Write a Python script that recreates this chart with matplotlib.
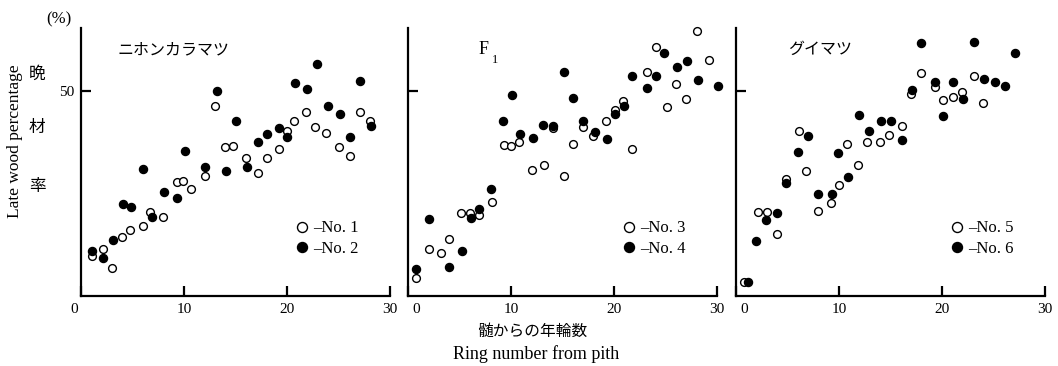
import matplotlib
matplotlib.use('Agg')
import matplotlib.pyplot as plt
from matplotlib.lines import Line2D
from matplotlib.transforms import ScaledTranslation

plt.rcParams['font.family'] = ['Liberation Serif', 'Noto Sans CJK JP']

# --- data (ring number from pith, late wood %) ---
titles = ['ニホンカラマツ', 'F', 'グイマツ']
labels_open = ['No. 1', 'No. 3', 'No. 5']
labels_fill = ['No. 2', 'No. 4', 'No. 6']

x_no1 = [1.1, 2.1, 3.0, 4.0, 4.8, 6.0, 6.7, 8.0, 9.3, 9.9, 10.7, 12.0, 13.0, 14.0,
         14.8, 16.0, 17.2, 18.1, 19.2, 20.0, 20.7, 21.8, 22.7, 23.8, 25.0, 26.1, 27.1, 28.1]
y_no1 = [9.8, 11.5, 6.9, 14.5, 16.1, 17.2, 20.5, 19.3, 27.9, 28.1, 26.1, 29.3, 46.4, 36.4,
         36.6, 33.6, 30.0, 33.6, 35.9, 40.2, 42.8, 45.0, 41.3, 39.7, 36.4, 34.2, 44.8, 42.7]

x_no2 = [1.1, 2.1, 3.1, 4.1, 4.9, 6.0, 6.9, 8.1, 9.3, 10.1, 12.0, 13.2, 14.1, 15.0,
         16.1, 17.2, 18.1, 19.2, 20.0, 20.8, 21.9, 22.9, 24.0, 25.1, 26.1, 27.1, 28.2]
y_no2 = [11.1, 9.2, 13.7, 22.5, 21.7, 31.1, 19.3, 25.5, 23.9, 35.4, 31.5, 50.1, 30.4, 42.8,
         31.4, 37.6, 39.6, 41.1, 38.8, 52.1, 50.4, 56.7, 46.3, 44.5, 38.9, 52.5, 41.5]

x_no3 = [0.8, 2.0, 3.2, 4.0, 5.1, 6.0, 6.9, 8.2, 9.3, 10.0, 10.8, 12.0, 13.2, 14.1, 15.1,
         16.0, 17.0, 18.0, 19.2, 20.1, 20.9, 21.7, 23.2, 24.1, 25.1, 26.0, 27.0, 28.1, 29.2]
y_no3 = [4.3, 11.4, 10.6, 14.0, 20.2, 20.3, 19.8, 22.9, 36.9, 36.7, 37.5, 30.8, 32.0, 40.9, 29.3,
         37.2, 41.3, 39.1, 42.8, 45.4, 47.6, 35.9, 54.6, 60.7, 46.0, 51.8, 48.1, 64.6, 57.5]

x_no4 = [0.8, 2.0, 4.0, 5.2, 6.1, 6.9, 8.1, 9.2, 10.1, 10.9, 12.1, 13.1, 14.1, 15.1,
         16.0, 17.0, 18.2, 19.3, 20.1, 21.0, 21.7, 23.2, 24.1, 24.9, 26.1, 27.1, 28.2, 30.1]
y_no4 = [6.7, 18.9, 7.0, 11.1, 19.1, 21.2, 26.1, 42.6, 49.1, 39.5, 38.6, 41.8, 41.6, 54.7,
         48.4, 42.8, 40.1, 38.4, 44.3, 46.3, 53.6, 50.7, 53.7, 59.4, 56.0, 57.4, 52.7, 51.3]

x_no5 = [0.8, 2.1, 3.0, 4.0, 4.9, 6.1, 6.8, 8.0, 9.2, 10.0, 10.8, 11.8, 12.7, 14.0,
         14.9, 16.1, 17.0, 18.0, 19.3, 20.1, 21.1, 21.9, 23.1, 24.0]
y_no5 = [3.5, 20.4, 20.4, 15.1, 28.5, 40.2, 30.6, 20.7, 22.7, 27.1, 37.2, 31.9, 37.6, 37.7,
         39.3, 41.5, 49.3, 54.5, 50.9, 47.9, 48.6, 49.8, 53.7, 47.2]

x_no6 = [1.2, 1.9, 2.9, 4.0, 4.9, 6.0, 7.0, 8.0, 9.3, 9.9, 10.9, 11.9, 12.9, 14.1,
         15.0, 16.1, 17.1, 18.0, 19.3, 20.1, 21.1, 22.0, 23.1, 24.1, 25.1, 26.1, 27.1]
y_no6 = [3.3, 13.3, 18.5, 20.2, 27.6, 35.1, 39.1, 24.9, 25.0, 34.9, 29.1, 44.1, 40.2, 42.8,
         42.8, 38.0, 50.2, 61.8, 52.2, 44.0, 52.2, 48.0, 62.0, 52.9, 52.3, 51.2, 59.2]

open_sets = [(x_no1, y_no1), (x_no3, y_no3), (x_no5, y_no5)]
fill_sets = [(x_no2, y_no2), (x_no4, y_no4), (x_no6, y_no6)]

W, H = 1058, 366
fig = plt.figure(figsize=(W / 100, H / 100), dpi=100)

lefts = [81, 408, 736]
title_x = [0.117, 0.227, 0.168]
axes = []
for i in range(3):
    ax = fig.add_axes([lefts[i] / W, (H - 296) / H, 309 / W, 268 / H])
    axes.append(ax)
    xo, yo = open_sets[i]
    xf, yf = fill_sets[i]
    ax.plot(xo, yo, 'o', ms=5.6, mfc='white', mec='black', mew=1.0, clip_on=False)
    ax.plot(xf, yf, 'o', ms=5.8, mfc='black', mec='black', mew=1.0, clip_on=False)

    ax.set_xlim(0, 30)
    ax.set_ylim(0, 65.4)
    for s in ['top', 'right']:
        ax.spines[s].set_visible(False)
    for s in ['left', 'bottom']:
        ax.spines[s].set_linewidth(1.6)
    ax.set_xticks([0, 10, 20, 30])
    ax.set_xticklabels(['0', '10', '20', '30'])
    ax.set_yticks([50])
    ax.set_yticklabels(['50'] if i == 0 else [''])
    ax.tick_params(direction='in', width=1.6, length=7, labelsize=11, pad=5)

    # shift the "0" label like in the original print
    dx = -7 if i == 0 else 8
    lab = ax.xaxis.get_major_ticks()[0].label1
    lab.set_transform(lab.get_transform() + ScaledTranslation(dx / 100, 0, fig.dpi_scale_trans))

    if i == 1:
        ax.text(title_x[i], 0.918, titles[i], transform=ax.transAxes, fontsize=13,
                ha='left', va='center')
        ax.text(0.27, 0.88, '1', transform=ax.transAxes, fontsize=9,
                ha='left', va='center')
    else:
        ax.text(title_x[i], 0.918, titles[i], transform=ax.transAxes, fontsize=11.5,
                ha='left', va='center')

    handles = [Line2D([], [], ls='none', marker='o', ms=7.2, mfc='white', mec='black', mew=1.0),
               Line2D([], [], ls='none', marker='o', ms=7.2, mfc='black', mec='black')]
    ax.legend(handles, ['\u2013' + labels_open[i], '\u2013' + labels_fill[i]],
              loc='center left', bbox_to_anchor=(0.693, 0.2146), frameon=False,
              handlelength=0.8, handletextpad=0.3, labelspacing=0.25, fontsize=12,
              borderpad=0, borderaxespad=0)

fig.text(59 / W, 1 - 19 / H, '(%)', fontsize=12, ha='center', va='center')
for ch, yy in zip(['晩', '材', '率'], [75, 128, 187]):
    fig.text(37 / W, 1 - yy / H, ch, fontsize=12, ha='center', va='center')
fig.text(15 / W, 1 - 141 / H, 'Late wood percentage', fontsize=12.5, rotation=90,
         ha='center', va='center')
fig.text(532 / W, 1 - 332 / H, '髄からの年輪数', fontsize=11.3, ha='center', va='center')
fig.text(536 / W, 1 - 354 / H, 'Ring number from pith', fontsize=13, ha='center', va='center')

fig.savefig('out.png', dpi=100)
